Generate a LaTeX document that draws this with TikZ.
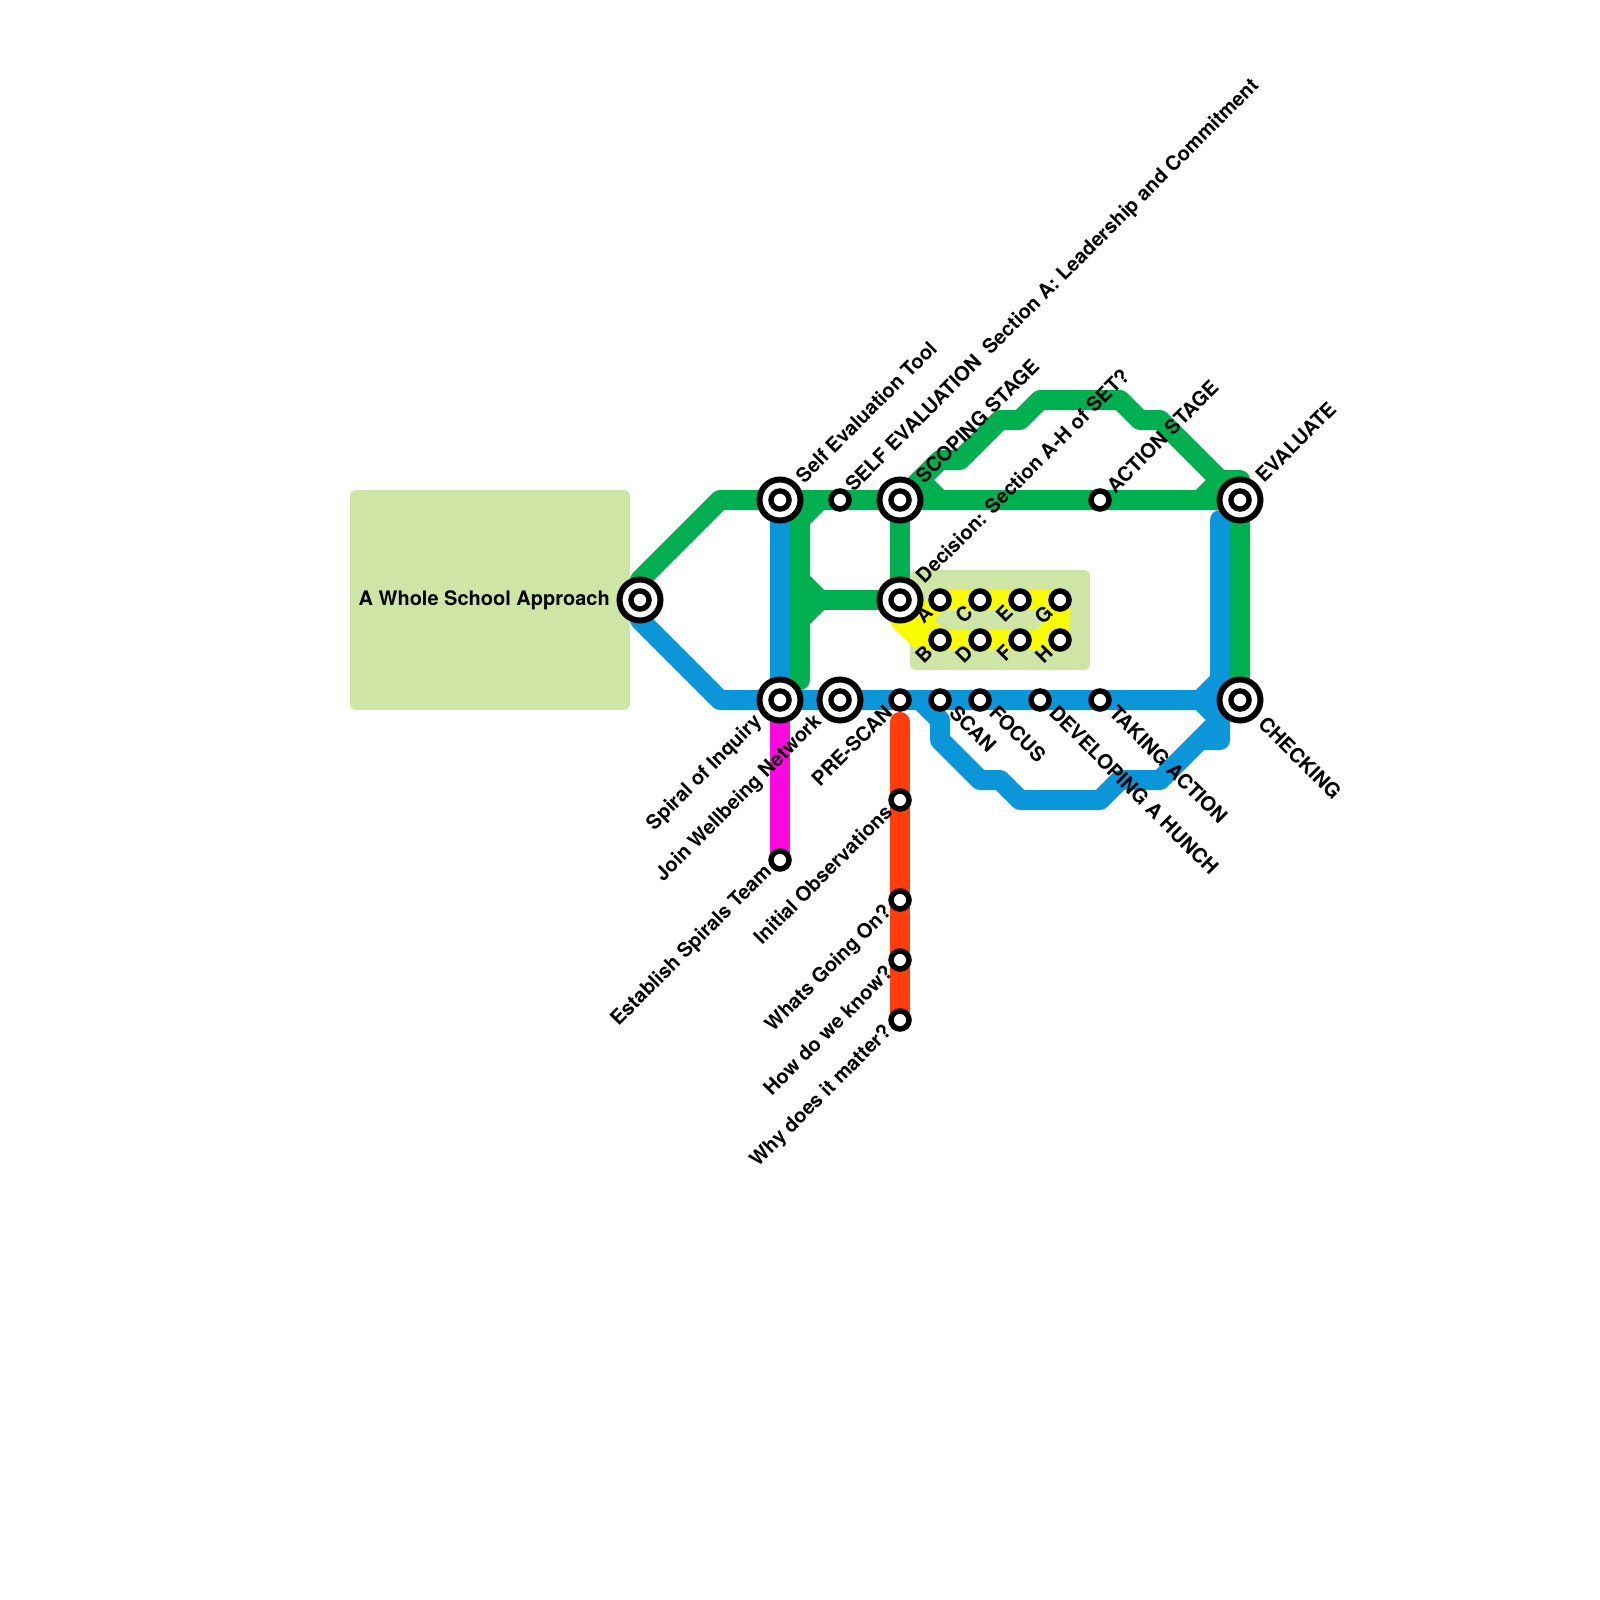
\documentclass[tikz,border=0pt]{standalone}
\usepackage{fontspec}
\setmainfont{TeX Gyre Heros}
\definecolor{gline}{HTML}{00B050}
\definecolor{bline}{HTML}{0A96D8}
\definecolor{yline}{HTML}{F9FC00}
\definecolor{rline}{HTML}{FF3D0D}
\definecolor{mline}{HTML}{F909DE}
\definecolor{pale}{HTML}{CFE5A6}
\pgfdeclarelayer{lines}
\pgfsetlayers{lines,main}
\tikzset{
 x=1pt,y=-1pt,
 route/.style={line width=20pt,line cap=round,line join=round},
 area/.style={fill=pale,rounded corners=6pt,draw=none},
 bigst/.style={circle,draw=black,fill=white,line width=6pt,minimum size=41pt,inner sep=0pt,
   path picture={\fill[black] (path picture bounding box.center) circle (11.8pt);
                 \fill[white] (path picture bounding box.center) circle (6.2pt);}},
 smallst/.style={circle,draw=black,fill=white,line width=5.5pt,minimum size=18pt,inner sep=0pt},
 lab/.style={font=\bfseries\fontsize{20}{20}\selectfont,inner sep=0pt,text=black},
 ne/.style={lab,rotate=45,anchor=west},
 sw/.style={lab,rotate=45,anchor=east},
 se/.style={lab,rotate=-45,anchor=west},
}
\begin{document}
\begin{tikzpicture}
\useasboundingbox (0,0) rectangle (1600,1600);
% stations
\node[bigst] (whole) at (640,600) {};
\node[bigst] (selftool) at (780,500) {};
\node[smallst] (selfeval) at (840,500) {};
\node[bigst] (scoping) at (900,500) {};
\node[bigst] (decision) at (900,600) {};
\node[smallst] (action) at (1100,500) {};
\node[bigst] (evaluate) at (1240,500) {};
\node[bigst] (checking) at (1240,700) {};
\node[bigst] (spiral) at (780,700) {};
\node[bigst] (join) at (840,700) {};
\node[smallst] (prescan) at (900,700) {};
\node[smallst] (scan) at (940,700) {};
\node[smallst] (focus) at (980,700) {};
\node[smallst] (hunch) at (1040,700) {};
\node[smallst] (taking) at (1100,700) {};
\node[smallst] (team) at (780,860) {};
\node[smallst] (initial) at (900,800) {};
\node[smallst] (whats) at (900,900) {};
\node[smallst] (how) at (900,960) {};
\node[smallst] (why) at (900,1020) {};
\node[smallst] (sa) at (940,600) {};
\node[smallst] (sb) at (940,640) {};
\node[smallst] (sc) at (980,600) {};
\node[smallst] (sd) at (980,640) {};
\node[smallst] (se) at (1020,600) {};
\node[smallst] (sf) at (1020,640) {};
\node[smallst] (sg) at (1060,600) {};
\node[smallst] (sh) at (1060,640) {};
\begin{pgfonlayer}{lines}
\fill[area] (350,490) rectangle (630,710);
\fill[area] (910,570) rectangle (1090,670);
% yellow
\draw[route,yline] (decision.center) -- (920,620) -- (sb.center) -- (sh.center) -- (sg.center) -- (sa.center) -- (920,620);
\draw[route,yline] (decision.center) -- (900,620) -- (920,640) -- (sb.center);
\draw[route,yline] (1060,620) -- (1040,640);
% green
\draw[route,gline] (whole.center) -- (640,580) -- (720,500) -- (selftool.center) -- (selfeval.center) -- (scoping.center) -- (action.center) -- (evaluate.center);
\draw[route,gline] (920,480) -- (940,500);
\draw[route,gline] (1200,500) -- (1220,480);
\draw[route,gline] (scoping.center) -- (940,460) -- (960,460) -- (1000,420) -- (1020,420) -- (1040,400) -- (1120,400) -- (1140,420) -- (1160,420) -- (1220,480) -- (1240,480) -- (evaluate.center) -- (checking.center);
\draw[route,gline] (820,500) -- (800,520) -- (800,680);
\draw[route,gline] (800,580) -- (820,600) -- (800,620);
\draw[route,gline] (820,600) -- (decision.center) -- (scoping.center);
% blue
\draw[route,bline] (whole.center) -- (640,620) -- (720,700) -- (spiral.center) -- (join.center) -- (prescan.center) -- (scan.center) -- (focus.center) -- (hunch.center) -- (taking.center) -- (1200,700) -- (1220,680) -- (1220,520);
\draw[route,bline] (selftool.center) -- (spiral.center);
\draw[route,bline] (1200,700) -- (1220,720) -- (1220,740) -- (1200,740) -- (1160,780) -- (1120,780) -- (1100,800) -- (1020,800) -- (1000,780) -- (980,780) -- (940,740) -- (940,720) -- (920,700);
\draw[route,bline] (1200,740) -- (1220,720);
\draw[route,bline] (1200,700) -- (checking.center);
% magenta, red
\draw[route,mline] (spiral.center) -- (team.center);
\draw[route,rline] (900,722) -- (initial.center) -- (whats.center) -- (how.center) -- (why.center);
\end{pgfonlayer}
% labels
\node[lab,anchor=east] (lwhole) at (610,600.5) {A Whole School Approach};
\node[ne] (lselftool) at ([shift={(19,-21)}]selftool.center) {Self Evaluation Tool};
\node[ne] (lselfeval) at ([shift={(10,-11)}]selfeval.center) {SELF EVALUATION\hspace{0.55em}Section A: Leadership and Commitment};
\node[ne] (lscoping) at ([shift={(19,-21)}]scoping.center) {SCOPING STAGE};
\node[ne] (ldecision) at ([shift={(19,-21)}]decision.center) {Decision: Section A-H of SET?};
\node[ne] (laction) at ([shift={(10,-11)}]action.center) {ACTION STAGE};
\node[ne] (levaluate) at ([shift={(19,-21)}]evaluate.center) {EVALUATE};
\node[se] (lchecking) at ([shift={(22,20)}]checking.center) {CHECKING};
\node[se] (lscan) at ([shift={(13,9)}]scan.center) {SCAN};
\node[se] (lfocus) at ([shift={(13,9)}]focus.center) {FOCUS};
\node[se] (lhunch) at ([shift={(13,9)}]hunch.center) {DEVELOPING A HUNCH};
\node[se] (ltaking) at ([shift={(13,9)}]taking.center) {TAKING ACTION};
\node[sw] (lspiral) at ([shift={(-21,19)}]spiral.center) {Spiral of Inquiry};
\node[sw] (ljoin) at ([shift={(-21,19)}]join.center) {Join Wellbeing Network};
\node[sw] (lprescan) at ([shift={(-11.5,8.5)}]prescan.center) {PRE-SCAN};
\node[sw] (lteam) at ([shift={(-11,9)}]team.center) {Establish Spirals Team};
\node[sw] (linitial) at ([shift={(-11.5,8.5)}]initial.center) {Initial Observations};
\node[sw] (lwhats) at ([shift={(-11,9)}]whats.center) {Whats Going On?};
\node[sw] (lhow) at ([shift={(-11,9)}]how.center) {How do we know?};
\node[sw] (lwhy) at ([shift={(-11,9)}]why.center) {Why does it matter?};
\node[sw] (la) at ([shift={(-11,9)}]sa.center) {A};
\node[sw] (lb) at ([shift={(-11,9)}]sb.center) {B};
\node[sw] (lc) at ([shift={(-11,9)}]sc.center) {C};
\node[sw] (ld) at ([shift={(-11,9)}]sd.center) {D};
\node[sw] (le) at ([shift={(-11,9)}]se.center) {E};
\node[sw] (lf) at ([shift={(-11,9)}]sf.center) {F};
\node[sw] (lg) at ([shift={(-11,9)}]sg.center) {G};
\node[sw] (lh) at ([shift={(-11,9)}]sh.center) {H};
\end{tikzpicture}
\end{document}
